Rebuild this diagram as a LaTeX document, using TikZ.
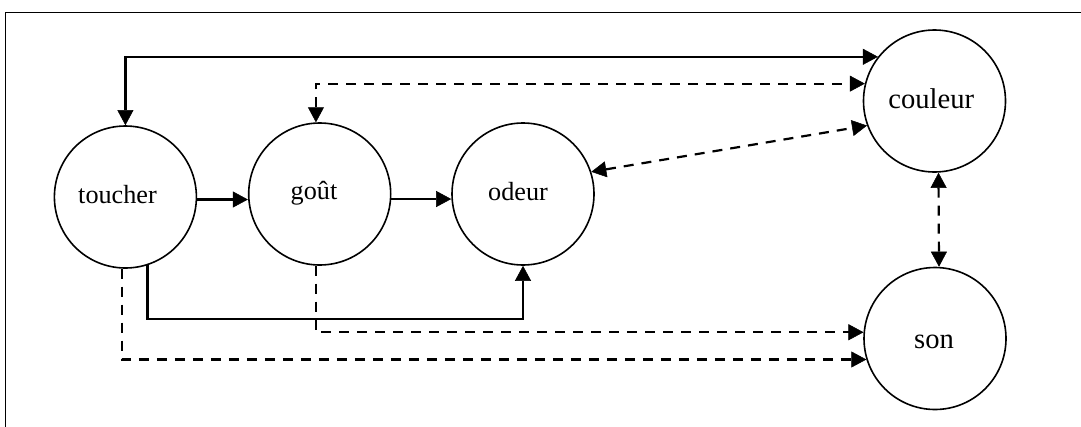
\documentclass[tikz,border=0pt]{standalone}
\usepackage{fontspec}
\setmainfont{Liberation Serif}
\usetikzlibrary{arrows.meta}
\begin{document}
\begin{tikzpicture}[x=1pt,y=-1pt,
  circ/.style={draw,circle,minimum size=142pt,inner sep=0pt,line width=1.6pt},
  lblA/.style={anchor=base,inner sep=0pt,font=\fontsize{26.2}{30}\selectfont},
  lblB/.style={anchor=base,inner sep=0pt,font=\fontsize{28.6}{32}\selectfont},
  conn/.style={line width=2.2pt,-{Triangle[length=15pt,width=16pt,line width=0.5pt]}},
  conn2/.style={line width=2.2pt,{Triangle[length=15pt,width=16pt,line width=0.5pt]}-{Triangle[length=15pt,width=16pt,line width=0.5pt]}},
  dsh/.style={dash pattern=on 10pt off 8pt}]
\useasboundingbox (0,0) rectangle (1081,426);
% frame (only top and left edges visible)
\draw[line width=1.3pt] (5.2,430) -- (5.2,12.4) -- (1085,12.4);
% circles
\node[circ] (toucher) at (125.4,197) {};
\node[circ] (gout) at (319.7,194) {};
\node[circ] (odeur) at (523,194) {};
\node[circ] (couleur) at (934.5,101) {};
\node[circ] (son) at (935,338.5) {};
% labels
\node[lblA] (tL) at (117.5,203) {toucher};
\node[lblA] (gL) at (314,199.5) {goût};
\node[lblA] (oL) at (518,200) {odeur};
\node[lblB] (cL) at (931.3,108) {couleur};
\node[lblB] (sL) at (934,348) {son};
% connectors
\draw[conn2] (toucher.north) |- (couleur.142);
\draw[conn2,dsh] (gout.93) |- (couleur.166);
\draw[conn2,dsh] (odeur.18) -- (couleur.200);
\draw[conn2,dsh] ([xshift=4pt]couleur.south) -- ([xshift=4pt]son.north);
\draw[conn] (toucher.-72) -- ++(0,54) -| (odeur.south);
\draw[conn,dsh] (gout.-93) |- (son.175);
\draw[conn,dsh] (toucher.-93) |- (son.197.6);
\draw[conn] (toucher.-2) -- (toucher.-2 -| gout.west);
\draw[conn] (gout.-4) -- (gout.-4 -| odeur.west);
\end{tikzpicture}
\end{document}
